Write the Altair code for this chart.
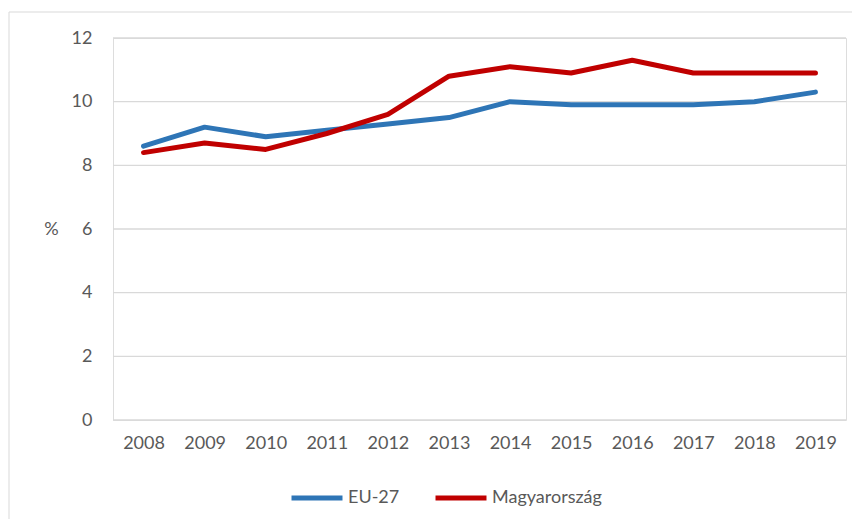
import altair as alt
import pandas as pd

years = ["2008", "2009", "2010", "2011", "2012", "2013", "2014", "2015", "2016", "2017", "2018", "2019"]
eu27 = [8.6, 9.2, 8.9, 9.1, 9.3, 9.5, 10.0, 9.9, 9.9, 9.9, 10.0, 10.3]
hu = [8.4, 8.7, 8.5, 9.0, 9.6, 10.8, 11.1, 10.9, 11.3, 10.9, 10.9, 10.9]
series = ["EU-27", "Magyarország"]
colors = ["#2E75B6", "#C00000"]
y_ticks = [0, 2, 4, 6, 8, 10, 12]

rows = []
for i, y in enumerate(years):
    rows.append({"year": y, "series": series[0], "value": eu27[i]})
    rows.append({"year": y, "series": series[1], "value": hu[i]})
df = pd.DataFrame(rows)

FONT = "Lato"
TXT = "#595959"
GRID = "#D9D9D9"

border = alt.Chart(pd.DataFrame({"k": [0]})).mark_rect(
    fill="transparent", stroke=GRID, strokeWidth=1
).encode(
    x=alt.value(-104), x2=alt.value(1000), y=alt.value(-26), y2=alt.value(1000)
)

grid = alt.Chart(pd.DataFrame({"t": y_ticks})).mark_rule(color=GRID, strokeWidth=1.3).encode(
    y=alt.Y("t:Q"), x=alt.value(0), x2=alt.value(733)
)

lines = alt.Chart(df).mark_line(strokeWidth=5, strokeCap="round", strokeJoin="round").encode(
    x=alt.X("year:O", sort=years, title=None,
            axis=alt.Axis(labelAngle=0, domain=False, ticks=False, labelPadding=14,
                          labelFont=FONT, labelFontSize=18, labelColor=TXT, grid=False)),
    y=alt.Y("value:Q", scale=alt.Scale(domain=[0, 12]),
            axis=alt.Axis(values=y_ticks, domain=False, ticks=False, labelPadding=21,
                          labelFont=FONT, labelFontSize=18, labelColor=TXT, grid=False,
                          title="%", titleAngle=0, titleX=-62, titleY=191,
                          titleAlign="center", titleBaseline="middle",
                          titleFont=FONT, titleFontSize=18, titleFontWeight="normal",
                          titleColor=TXT)),
    color=alt.Color("series:N", scale=alt.Scale(domain=series, range=colors),
                    legend=alt.Legend(title=None, orient="none", legendX=176, legendY=432,
                                      direction="horizontal", symbolType="stroke",
                                      symbolSize=2600, symbolStrokeWidth=5,
                                      labelFont=FONT, labelFontSize=18, labelColor=TXT,
                                      labelOffset=3, columnPadding=25))
)

chart = alt.layer(border, grid, lines).properties(
    width=733, height=382,
    autosize=alt.AutoSizeParams(type="none"),
    padding={"left": 105, "top": 30, "right": 6, "bottom": 99},
).configure_view(stroke=None).configure(background="white")

chart.save("out.html", embed_options={"renderer": "svg", "actions": False})
